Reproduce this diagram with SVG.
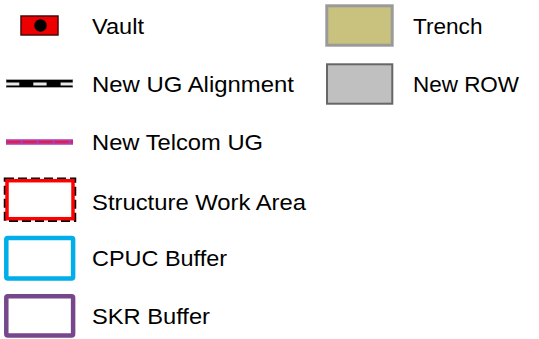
<svg xmlns="http://www.w3.org/2000/svg" width="539" height="339" viewBox="0 0 539 339">
<style>
.lbl{font-family:"Liberation Sans",Arial,sans-serif;font-size:22.5px;fill:#000}
</style>
<rect width="539" height="339" fill="#fff"/>
<g id="vault">
<rect x="21" y="16" width="37" height="19" fill="#ee0000" stroke="#4a0a0a" stroke-width="1.5"/>
<circle cx="40.5" cy="25.5" r="6.2" fill="#000"/>
<text class="lbl" x="92" y="34" textLength="52" lengthAdjust="spacingAndGlyphs">Vault</text>
</g>
<g id="ug-alignment">
<line x1="6" y1="83.5" x2="73" y2="83.5" stroke="#888" stroke-width="8.5"/>
<line x1="6.5" y1="83.5" x2="72.5" y2="83.5" stroke="#000" stroke-width="7"/>
<line x1="6" y1="84" x2="73" y2="84" stroke="#e8e8e8" stroke-width="2.8" stroke-dasharray="13.3 14"/>
<text class="lbl" x="92" y="92" textLength="202" lengthAdjust="spacingAndGlyphs">New UG Alignment</text>
</g>
<g id="telcom-ug">
<line x1="6" y1="142" x2="73" y2="142" stroke="#a040c8" stroke-width="5.5"/>
<line x1="6.7" y1="142" x2="73" y2="142" stroke="#ff1a1a" stroke-width="2" stroke-dasharray="14 2"/>
<text class="lbl" x="92" y="150" textLength="171" lengthAdjust="spacingAndGlyphs">New Telcom UG</text>
</g>
<g id="structure-work-area">
<rect x="5" y="178.7" width="70" height="42" fill="none" stroke="#000" stroke-width="2.5" stroke-dasharray="9 4"/>
<rect x="7" y="180.7" width="66" height="38" fill="#fff" stroke="#ff0000" stroke-width="3.5"/>
<text class="lbl" x="92" y="209.5" textLength="214" lengthAdjust="spacingAndGlyphs">Structure Work Area</text>
</g>
<g id="cpuc-buffer">
<rect x="6.3" y="238" width="66.8" height="40.5" rx="1.5" fill="#fff" stroke="#00aeea" stroke-width="4.5"/>
<text class="lbl" x="92" y="266" textLength="135" lengthAdjust="spacingAndGlyphs">CPUC Buffer</text>
</g>
<g id="skr-buffer">
<rect x="6.3" y="296.3" width="66.8" height="39.2" rx="1.5" fill="#fff" stroke="#76478a" stroke-width="4.5"/>
<text class="lbl" x="92" y="324" textLength="118" lengthAdjust="spacingAndGlyphs">SKR Buffer</text>
</g>
<g id="trench">
<rect x="326.8" y="5.8" width="65.4" height="39.4" fill="#c9c27f" stroke="#9a9a9a" stroke-width="3"/>
<text class="lbl" x="413" y="34" textLength="69.5" lengthAdjust="spacingAndGlyphs">Trench</text>
</g>
<g id="new-row">
<rect x="327" y="64.3" width="65.3" height="39.4" fill="#c0c0c0" stroke="#666" stroke-width="2"/>
<text class="lbl" x="413" y="92" textLength="106" lengthAdjust="spacingAndGlyphs">New ROW</text>
</g>
<g id="connectors"></g>
</svg>
